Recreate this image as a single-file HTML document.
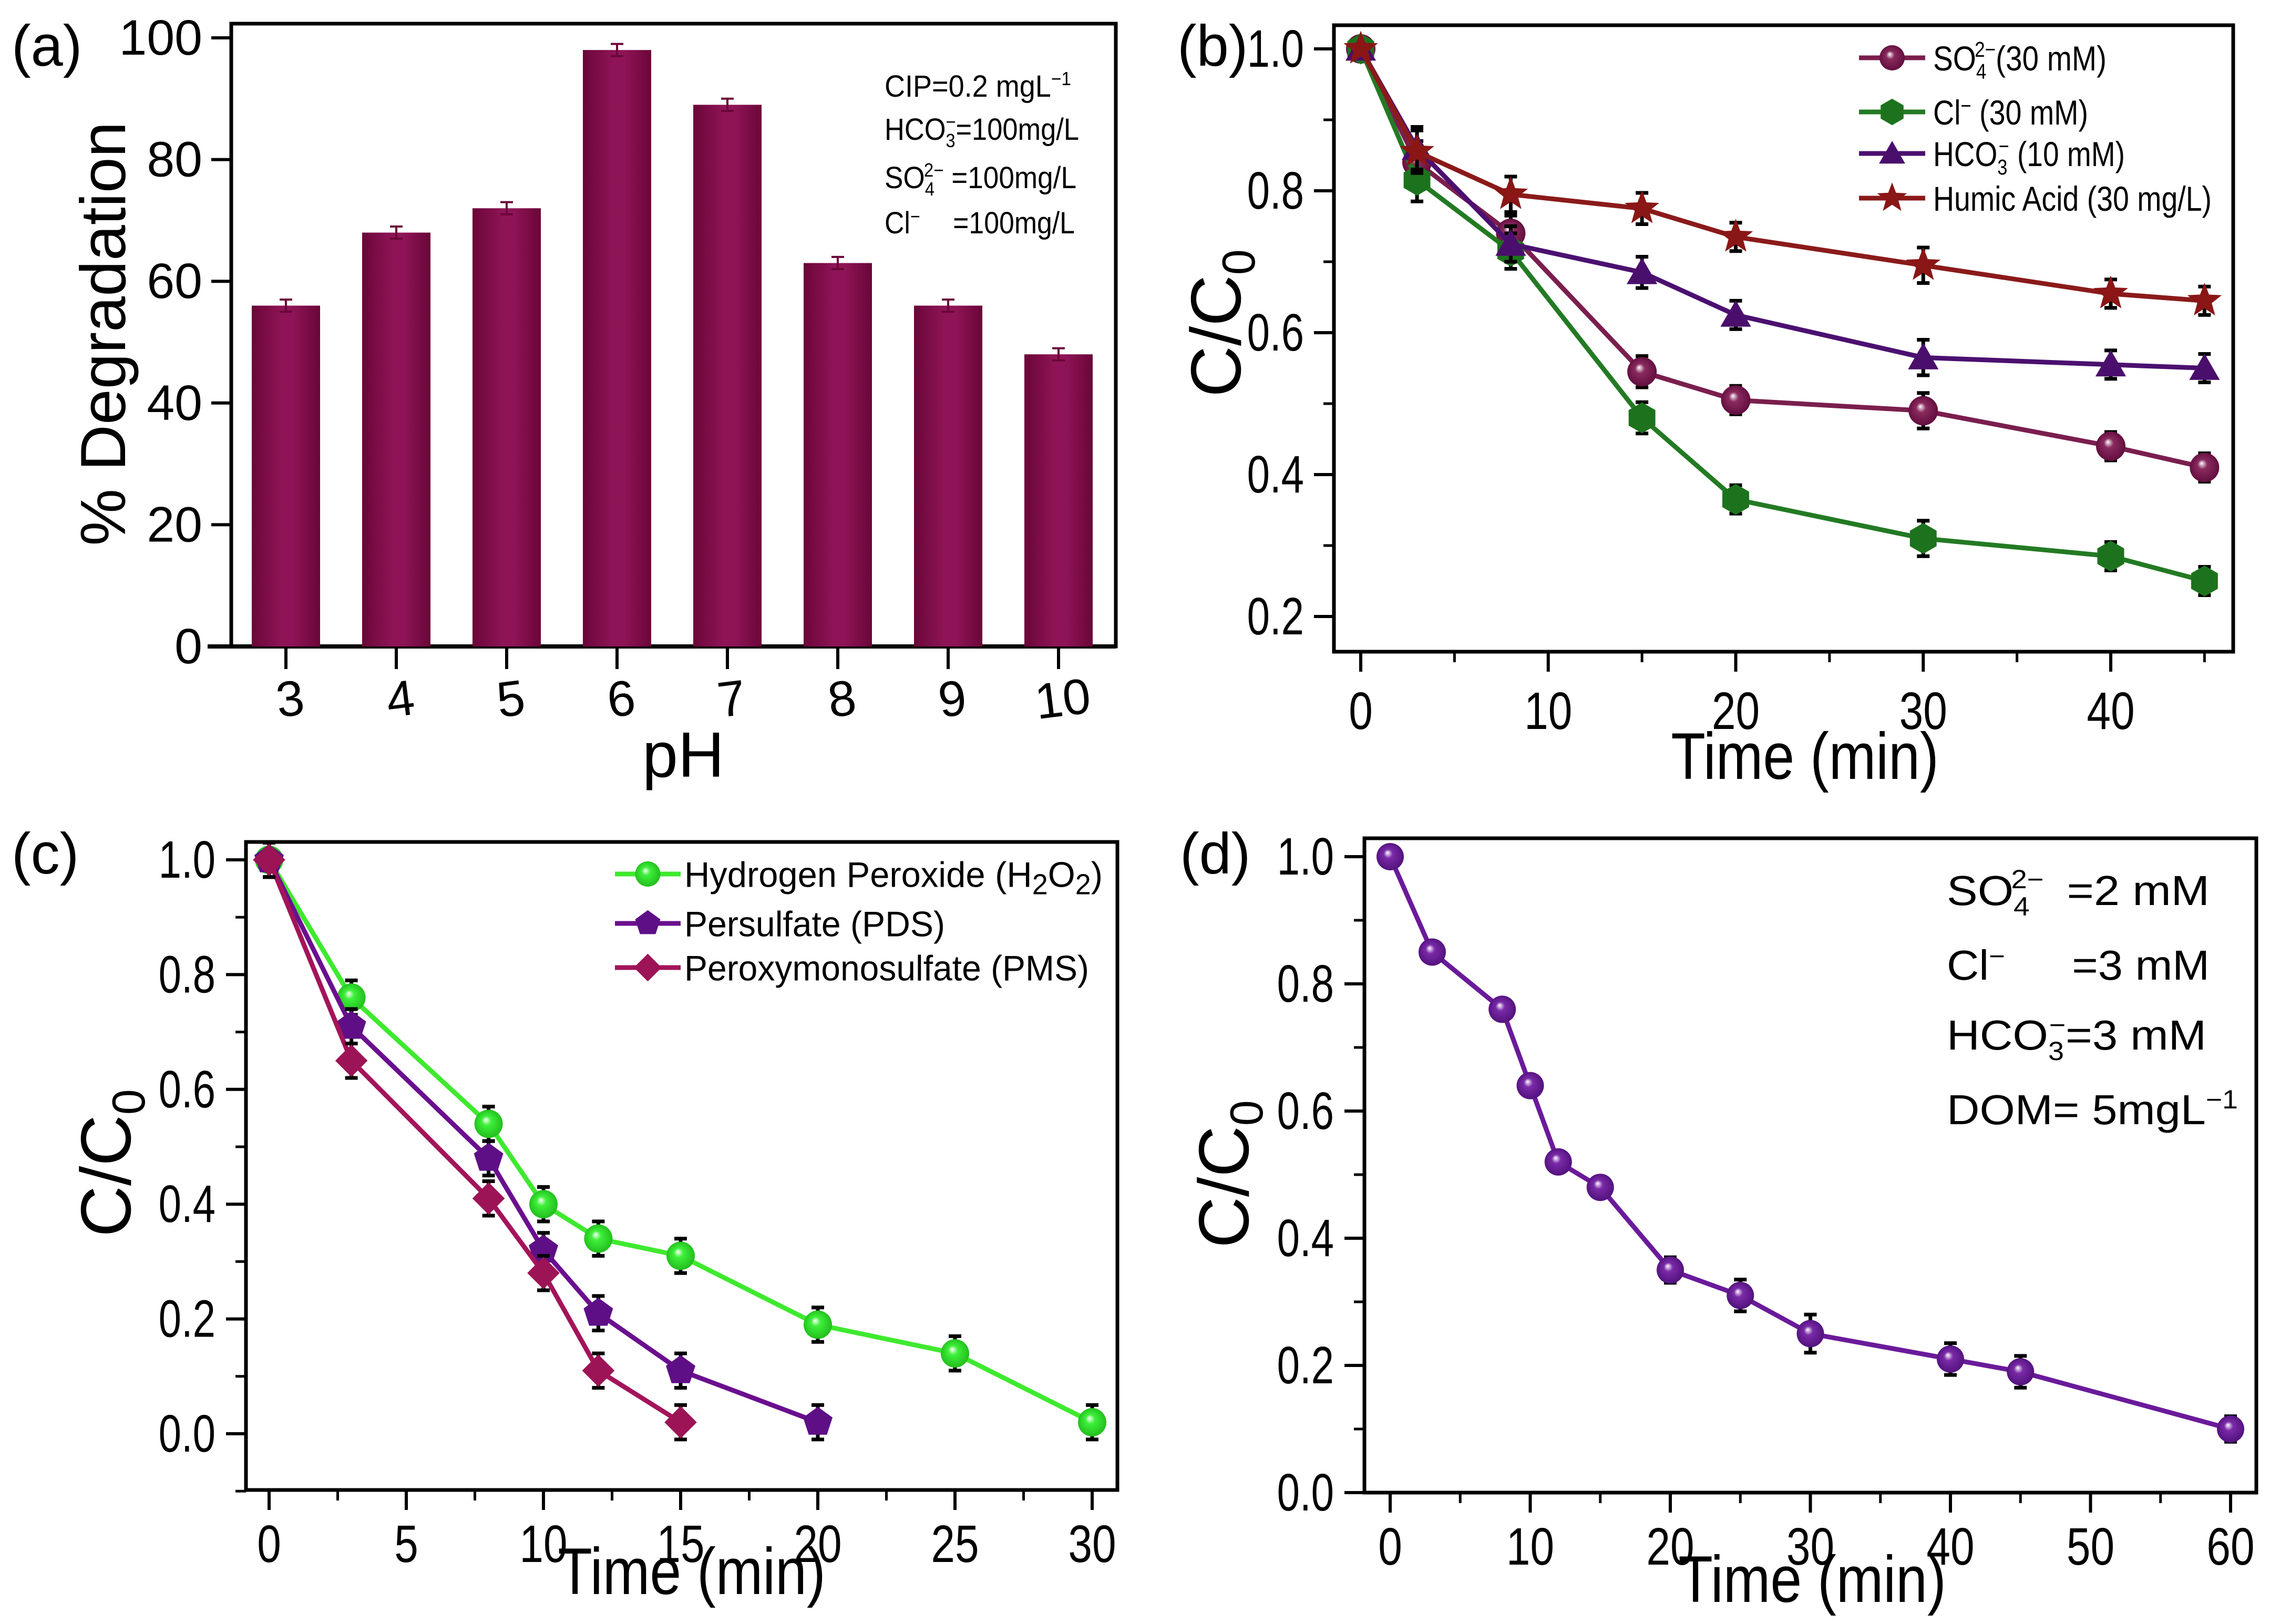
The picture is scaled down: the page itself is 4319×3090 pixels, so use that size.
<!DOCTYPE html>
<html><head><meta charset="utf-8"><title>Degradation figure</title>
<style>
html,body{margin:0;padding:0;background:#fff;}
svg{display:block;font-family:"Liberation Sans",sans-serif;}
</style></head>
<body>
<svg id="fig" width="4319" height="3090" viewBox="0 0 4319 3090" xmlns="http://www.w3.org/2000/svg">
<defs>
<linearGradient id="barGrad" x1="0" x2="1" y1="0" y2="0">
<stop offset="0" stop-color="#6a0638"/><stop offset="0.45" stop-color="#8f1457"/><stop offset="0.6" stop-color="#8f1457"/><stop offset="1" stop-color="#6a0638"/>
</linearGradient>
</defs>
<g id="root"></g>
</svg>
<script>
// ---------- data: panel (a)
const phCats = ["3","4","5","6","7","8","9","10"];
const phDeg = [56,68,72,98,89,63,56,48];
const phErr = [1,1,1,1,1,1,1,1];
const aTicks = [0,20,40,60,80,100];
// ---------- data: panel (b)
const bTime = [0,3,8,15,20,30,40,45];
const bSO4 = [1.0,0.84,0.74,0.545,0.505,0.49,0.44,0.41];
const bCl = [1.0,0.815,0.715,0.48,0.365,0.31,0.285,0.25];
const bHCO3 = [1.0,0.86,0.725,0.685,0.625,0.565,0.555,0.55];
const bHA = [1.0,0.855,0.795,0.775,0.735,0.695,0.655,0.645];
const bErr = [0.005,0.03,0.025,0.022,0.02,0.025,0.02,0.02];
const bXTicks = [0,10,20,30,40];
const bYTicks = [0.2,0.4,0.6,0.8,1.0];
// ---------- data: panel (c)
const cTimeH = [0,3,8,10,12,15,20,25,30];
const cH2O2 = [1.0,0.76,0.54,0.40,0.34,0.31,0.19,0.14,0.02];
const cTimeP = [0,3,8,10,12,15,20];
const cPDS = [1.0,0.71,0.48,0.32,0.21,0.11,0.02];
const cTimeM = [0,3,8,10,12,15];
const cPMS = [1.0,0.65,0.41,0.28,0.11,0.02];
const cErr = 0.03;
const cXTicks = [0,5,10,15,20,25,30];
const cYTicks = [0.0,0.2,0.4,0.6,0.8,1.0];
// ---------- data: panel (d)
const dTime = [0,3,8,10,12,15,20,25,30,40,45,60];
const dVal = [1.0,0.85,0.76,0.64,0.52,0.48,0.35,0.31,0.25,0.21,0.19,0.10];
const dErr = [0.005,0.015,0.015,0.015,0.015,0.015,0.02,0.025,0.03,0.025,0.025,0.02];
const dXTicks = [0,10,20,30,40,50,60];
const dYTicks = [0.0,0.2,0.4,0.6,0.8,1.0];

const NS="http://www.w3.org/2000/svg";
const root=document.getElementById('root');
const defs=document.querySelector('defs');
function el(tag,attrs,parent){const e=document.createElementNS(NS,tag);for(const k in attrs)e.setAttribute(k,attrs[k]);(parent||root).appendChild(e);return e;}
function lin(a0,a1,p0,p1){return v=>p0+(v-a0)/(a1-a0)*(p1-p0);}
let gid=0;
function sphereGrad(col,dark){const id='sg'+(gid++);const g=el('radialGradient',{id:id,cx:'0.5',cy:'0.5',r:'0.55',fx:'0.4',fy:'0.35'},defs);el('stop',{offset:'0','stop-color':'#ffffff'},g);el('stop',{offset:'0.3','stop-color':col},g);el('stop',{offset:'1','stop-color':dark},g);return 'url(#'+id+')';}
function poly(n,cx,cy,r,rot){let p=[];for(let i=0;i<n;i++){const a=rot+i*2*Math.PI/n;p.push((cx+r*Math.cos(a)).toFixed(1)+','+(cy+r*Math.sin(a)).toFixed(1));}return p.join(' ');}
function star(cx,cy,r){let p=[];for(let i=0;i<10;i++){const a=-Math.PI/2+i*Math.PI/5;const rr=i%2?r*0.42:r;p.push((cx+rr*Math.cos(a)).toFixed(1)+','+(cy+rr*Math.sin(a)).toFixed(1));}return p.join(' ');}
function marker(g,type,cx,cy,r,fill){
  let m;
  if(type==='sphere') m=el('circle',{cx:cx,cy:cy,r:r,fill:fill},g);
  else if(type==='hex') m=el('polygon',{points:poly(6,cx,cy,r*1.05,-Math.PI/2),fill:fill},g);
  else if(type==='tri') m=el('polygon',{points:poly(3,cx,cy+r*0.2,r*1.2,-Math.PI/2),fill:fill},g);
  else if(type==='star') m=el('polygon',{points:star(cx,cy,r*1.15),fill:fill},g);
  else if(type==='pent') m=el('polygon',{points:poly(5,cx,cy,r*1.05,-Math.PI/2),fill:fill},g);
  else if(type==='diam') m=el('polygon',{points:poly(4,cx,cy,r*1.1,-Math.PI/2),fill:fill},g);
  return m;
}
function txt(s,x,y,size,anchor,parent){const t=el('text',{x:x,y:y,'font-size':size,'text-anchor':anchor||'middle',fill:'#000'},parent);t.textContent=s;return t;}
function ctxt(s,x,y,size,anchor,parent,sc){const t=el('text',{x:0,y:0,'font-size':size,'text-anchor':anchor||'middle',fill:'#000',transform:'translate('+x+','+y+') scale('+(sc||0.8)+',1)'},parent);t.textContent=s;return t;}

function frame(g,x0,y0,x1,y1){el('rect',{x:x0,y:y0,width:x1-x0,height:y1-y0,fill:'none',stroke:'#000','stroke-width':7},g);}

function xAxis(g,ticks,sx,yb,fs,ly,minorStep,xmin,xmax){
  ticks.forEach(v=>{el('line',{x1:sx(v),x2:sx(v),y1:yb,y2:yb+38,stroke:'#000','stroke-width':6},g);
    const t=ctxt(String(v),sx(v),ly,fs,'middle',g,0.82);
    
    });
  if(minorStep){for(let v=xmin;v<=xmax+1e-9;v+=minorStep){if(ticks.some(t=>Math.abs(t-v)<1e-9))continue;el('line',{x1:sx(v),x2:sx(v),y1:yb,y2:yb+20,stroke:'#000','stroke-width':5},g);}}
}
function yAxis(g,ticks,sy,xl,fs,lx,minorStep,ymin,ymax,dec){
  ticks.forEach(v=>{el('line',{x1:xl-38,x2:xl,y1:sy(v),y2:sy(v),stroke:'#000','stroke-width':6},g);
    const t=ctxt(dec?v.toFixed(dec):String(v),lx,sy(v)+34,fs,'end',g,0.78);
    
    });
  if(minorStep){for(let v=ymin;v<=ymax+1e-9;v+=minorStep){if(ticks.some(t=>Math.abs(t-v)<1e-9))continue;el('line',{x1:xl-20,x2:xl,y1:sy(v),y2:sy(v),stroke:'#000','stroke-width':5},g);}}
}
function cc0Label(g,x,y,size){
  const t=el('text',{x:0,y:0,'font-size':size,'text-anchor':'middle',transform:'translate('+x+','+y+') rotate(-90)'},g);
  
  
  t.appendChild(document.createTextNode('C/C'));
  const s=el('tspan',{'font-size':size*0.65,dy:size*0.2},t);s.textContent='0';
}
function series(g,name,xs,ys,errs,sx,sy,col,type,fill,r){
  const sg=el('g',{},g);
  
  
  const pts=xs.map((x,i)=>sx(x).toFixed(1)+','+sy(ys[i]).toFixed(1)).join(' ');
  el('polyline',{points:pts,fill:'none',stroke:col,'stroke-width':9,'stroke-linejoin':'round'},sg);
  xs.forEach((x,i)=>{const e=Array.isArray(errs)?errs[i]:errs;const cx=sx(x);
    const eb=el('path',{d:'M'+cx+','+sy(ys[i]+e)+'V'+sy(ys[i]-e)+'M'+(cx-12)+','+sy(ys[i]+e)+'h24M'+(cx-12)+','+sy(ys[i]-e)+'h24',stroke:'#000','stroke-width':7,fill:'none'},sg);
    
    });
  xs.forEach((x,i)=>{const m=marker(sg,type,sx(x),sy(ys[i]),r,fill);
    
    });
}
function legendRow(g,name,x0,x1,y,col,type,fill,r,buildText,tx,tlen,fs){
  const lg=el('g',{},g);
  
  
  el('line',{x1:x0,x2:x1,y1:y,y2:y,stroke:col,'stroke-width':9},lg);
  marker(lg,type,(x0+x1)/2,y,r,fill);
  const t=el('text',{x:tx,y:y+fs*0.36,'font-size':fs,textLength:tlen,lengthAdjust:'spacingAndGlyphs'},lg);
  buildText(t,fs);
}
function sub(t,s,fs,dy){const e=el('tspan',{'font-size':fs*0.62,dy:dy},t);e.textContent=s;return e;}
function plain(t,s,dy,dx){const a={};if(dy!==undefined)a.dy=dy;if(dx!==undefined)a.dx=dx;const e=el('tspan',a,t);e.textContent=s;return e;}
function panelLetter(g,s,x,y){const t=txt(s,x,y,110,'start',g);}
function xTitle(g,x,y){const t=ctxt('Time (min)',x,y,125,'middle',g,0.86);}

// ================= Panel (a)
(function(){
  const g=el('g',{});
  
  
  const sy=lin(0,100,1230,72);
  const bx=i=>544+210*i;
  el('rect',{x:440,y:45,width:2123-440,height:1230-45,fill:'none',stroke:'#000','stroke-width':7},g);
  el('line',{x1:395,x2:2123,y1:1230,y2:1230,stroke:'#000','stroke-width':8},g);
  phDeg.forEach((v,i)=>{const b=el('rect',{x:bx(i)-65,y:sy(v),width:130,height:1230-sy(v),fill:'url(#barGrad)'},g);
    
    
    const e=phErr[i];
    el('path',{d:'M'+bx(i)+','+sy(v+e)+'V'+sy(v-e)+'M'+(bx(i)-12)+','+sy(v+e)+'h24M'+(bx(i)-12)+','+sy(v-e)+'h24',stroke:'#6a0638','stroke-width':4,fill:'none'},g);
  });
  phCats.forEach((c,i)=>{el('line',{x1:bx(i),x2:bx(i),y1:1230,y2:1273,stroke:'#000','stroke-width':6},g);
    const t=el('text',{x:bx(i)+8,y:1362,'font-size':95,'text-anchor':'middle',transform:'rotate(-7 '+(bx(i)+8)+' 1330)'},g);t.textContent=c;
    
    });
  aTicks.forEach(v=>{el('line',{x1:402,x2:440,y1:sy(v),y2:sy(v),stroke:'#000','stroke-width':6},g);
    const t=txt(String(v),385,sy(v)+32,95,'end',g);
    
    });
  const yl=el('text',{x:0,y:0,'font-size':122,'text-anchor':'middle',transform:'translate(238,635) rotate(-90)'},g);yl.textContent='% Degradation';
  
  
  const xl=txt('pH',1300,1478,122,'middle',g);
  
  
  panelLetter(g,'(a)',22,125);
  const ann=el('g',{},g);
  
  
  const fs=58;
  let t=el('text',{x:1683,y:184,'font-size':fs,textLength:355,lengthAdjust:'spacingAndGlyphs'},ann);plain(t,'CIP=0.2 mgL');sub(t,'−1',fs,-22);
  t=el('text',{x:1683,y:266,'font-size':fs,textLength:370,lengthAdjust:'spacingAndGlyphs'},ann);plain(t,'HCO');sub(t,'3',fs,14);const s1=el('tspan',{dx:-20,dy:-36,'font-size':fs*0.62},t);s1.textContent='−';plain(t,'=100mg/L',22);
  t=el('text',{x:1683,y:358,'font-size':fs,textLength:365,lengthAdjust:'spacingAndGlyphs'},ann);plain(t,'SO');sub(t,'4',fs,14);const s2=el('tspan',{dx:-22,dy:-36,'font-size':fs*0.62},t);s2.textContent='2−';plain(t,' =100mg/L',22);
  t=el('text',{x:1683,y:444,'font-size':fs,textLength:362,lengthAdjust:'spacingAndGlyphs'},ann);plain(t,'Cl');sub(t,'−',fs,-20);plain(t,'=100mg/L',20,70);
})();

// ================= Panel (b)
(function(){
  const g=el('g',{});
  
  
  const sx=lin(0,40,2589,4016), sy=lin(0.2,1.0,1173,93);
  frame(g,2538,48,4249,1240);
  xAxis(g,bXTicks,sx,1240,100,1387,5,0,45);
  yAxis(g,bYTicks,sy,2538,100,2481,0.1,0.2,1.0,1);
  const cSO4=sphereGrad('#8a2a5e','#5e0b3a'), cCl='#1d731d', cHC='#4a0f6c', cHA='#8a1616';
  series(g,'series-so4',bTime,bSO4,bErr,sx,sy,'#7a1e4e','sphere',cSO4,28);
  series(g,'series-cl',bTime,bCl,bErr,sx,sy,'#237a23','hex',cCl,28);
  series(g,'series-hco3',bTime,bHCO3,bErr,sx,sy,'#4b1070','tri',cHC,28);
  series(g,'series-humic-acid',bTime,bHA,bErr,sx,sy,'#8b1a1a','star',cHA,30);
  cc0Label(g,2360,615,135);
  xTitle(g,3434,1482);
  panelLetter(g,'(b)',2240,125);
  const lg=el('g',{},g);
  
  
  const fs=66;
  legendRow(lg,'legend-entry-so4',3537,3663,110,'#7a1e4e','sphere',cSO4,24,(t)=>{plain(t,'SO');sub(t,'4',fs,16);const s=el('tspan',{dx:-26,dy:-42,'font-size':fs*0.62},t);s.textContent='2−';plain(t,'(30 mM)',26);},3678,330,fs);
  legendRow(lg,'legend-entry-cl',3537,3663,213,'#237a23','hex',cCl,24,(t)=>{plain(t,'Cl');sub(t,'−',fs,-22);plain(t,' (30 mM)',22);},3678,295,fs);
  legendRow(lg,'legend-entry-hco3',3537,3663,292,'#4b1070','tri',cHC,24,(t)=>{plain(t,'HCO');sub(t,'3',fs,16);const s=el('tspan',{dx:-20,dy:-40,'font-size':fs*0.62},t);s.textContent='−';plain(t,' (10 mM)',24);},3678,365,fs);
  legendRow(lg,'legend-entry-humic-acid',3537,3663,377,'#8b1a1a','star',cHA,26,(t)=>{plain(t,'Humic Acid (30 mg/L)');},3678,530,fs);
})();

// ================= Panel (c)
(function(){
  const g=el('g',{});
  
  
  const sx=lin(0,30,512,2078), sy=lin(0,1.0,2728,1636);
  frame(g,468,1602,2126,2835);
  xAxis(g,cXTicks,sx,2835,100,2972,2.5,0,30);
  yAxis(g,cYTicks,sy,468,100,410,0.1,-0.1,1.0,1);
  const gH=sphereGrad('#3ef03a','#1fb81a'), gP='#5e0f86', gM='#9c1456';
  series(g,'series-h2o2',cTimeH,cH2O2,cErr,sx,sy,'#3fe92f','sphere',gH,27);
  series(g,'series-pds',cTimeP,cPDS,cErr,sx,sy,'#6a0f8e','pent',gP,28);
  series(g,'series-pms',cTimeM,cPMS,cErr,sx,sy,'#a3145a','diam',gM,28);
  cc0Label(g,248,2213,135);
  xTitle(g,1316,3033);
  panelLetter(g,'(c)',22,1662);
  const lg=el('g',{},g);
  
  
  const fs=68;
  legendRow(lg,'legend-entry-h2o2',1170,1295,1663,'#3fe92f','sphere',gH,24,(t)=>{plain(t,'Hydrogen Peroxide (H');sub(t,'2',fs*1.3,14);plain(t,'O',-14);sub(t,'2',fs*1.3,14);plain(t,')',-14);},1302,796,fs);
  legendRow(lg,'legend-entry-pds',1170,1295,1757,'#6a0f8e','pent',gP,24,(t)=>{plain(t,'Persulfate (PDS)');},1302,496,fs);
  legendRow(lg,'legend-entry-pms',1170,1295,1841,'#a3145a','diam',gM,24,(t)=>{plain(t,'Peroxymonosulfate (PMS)');},1302,770,fs);
})();

// ================= Panel (d)
(function(){
  const g=el('g',{});
  
  
  const sx=lin(0,60,2645,4244), sy=lin(0,1.0,2840,1630);
  frame(g,2596,1595,4293,2840);
  xAxis(g,dXTicks,sx,2840,100,2977,5,0,60);
  yAxis(g,dYTicks,sy,2596,100,2538,0.1,0.0,1.0,1);
  const gD=sphereGrad('#7a2aa8','#4e0f78');
  series(g,'series-mixed-ions',dTime,dVal,dErr,sx,sy,'#6a1a9a','sphere',gD,26);
  cc0Label(g,2375,2234,135);
  xTitle(g,3448,3048);
  panelLetter(g,'(d)',2245,1662);
  const ann=el('g',{},g);
  
  
  const fs=80;
  let t=el('text',{x:3704,y:1722,'font-size':fs,textLength:500,lengthAdjust:'spacingAndGlyphs'},ann);plain(t,'SO');sub(t,'4',fs,20);const s1=el('tspan',{dx:-32,dy:-52,'font-size':fs*0.62},t);s1.textContent='2−';plain(t,'=2 mM',32,40);
  t=el('text',{x:3704,y:1864,'font-size':fs,textLength:500,lengthAdjust:'spacingAndGlyphs'},ann);plain(t,'Cl');sub(t,'−',fs,-28);plain(t,'=3 mM',28,120);
  t=el('text',{x:3704,y:1997,'font-size':fs,textLength:494,lengthAdjust:'spacingAndGlyphs'},ann);plain(t,'HCO');sub(t,'3',fs,20);const s2=el('tspan',{dx:-26,dy:-50,'font-size':fs*0.62},t);s2.textContent='−';plain(t,'=3 mM',30);
  t=el('text',{x:3704,y:2139,'font-size':fs,textLength:554,lengthAdjust:'spacingAndGlyphs'},ann);plain(t,'DOM= 5mgL');sub(t,'−1',fs,-30);
})();
</script>
</body></html>
